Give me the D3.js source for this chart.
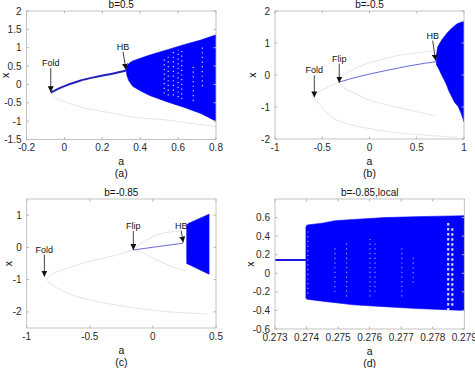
<!DOCTYPE html>
<html>
<head>
<meta charset="utf-8">
<script src="https://cdn.jsdelivr.net/npm/d3@7"></script>
<style>
  body { margin: 0; background: #fff; }
  svg { display: block; font-family: "Liberation Sans", Arial, sans-serif; }
</style>
</head>
<body>
<div id="chart"></div>
<script>
// ---------- panel (a): b=0.5 ----------
const aTicksA = [-0.2, 0, 0.2, 0.4, 0.6, 0.8];
const xTicksA = [-1.5, -1, -0.5, 0, 0.5, 1, 1.5, 2];
const stableA = [[-0.072, -0.22], [-0.006, -0.06], [0.082, 0.1], [0.17, 0.21], [0.258, 0.3], [0.326, 0.38]];
const unstableA = [
    [[-0.072, -0.22], [-0.06, -0.3], [-0.04, -0.38], [0.082, -0.61], [0.258, -0.79], [0.38, -0.9], [0.54, -0.97], [0.7, -1.08], [0.8, -1.15]]
];
const cloudA = [[0.326, 0.38], [0.33, 0.5], [0.34, 0.57], [0.36, 0.64], [0.4, 0.71], [0.45, 0.8], [0.54, 0.94],
    [0.63, 1.08], [0.72, 1.21], [0.8, 1.35], [0.8, -1.0], [0.72, -0.79], [0.63, -0.62], [0.54, -0.47],
    [0.45, -0.3], [0.4, -0.17], [0.36, -0.05], [0.34, 0.1], [0.33, 0.24]];
const gapsA = [[0.527, -0.25, 0.7], [0.548, -0.3, 0.85], [0.575, -0.3, 0.9], [0.6, -0.35, 0.95], [0.619, -0.4, 0.98], [0.68, -0.45, 0.5], [0.728, -0.05, 1.1]];
const notesA = [['Fold', -0.072, -0.21], ['HB', 0.325, 0.4]];

// ---------- panel (b): b=-0.5 ----------
const aTicksB = [-1, -0.5, 0, 0.5, 1];
const xTicksB = [-2, -1, 0, 1, 2];
const stableB = [[-0.32, -0.22], [-0.1, -0.04], [0.16, 0.13], [0.45, 0.3], [0.71, 0.42]];
const unstableB = [
    [[-0.6, -0.72], [-0.56, -0.57], [-0.45, -0.4], [-0.32, -0.22]],
    [[-0.6, -0.72], [-0.54, -0.88], [-0.45, -1.18], [-0.365, -1.38], [-0.2, -1.55], [-0.01, -1.67], [0.34, -1.82], [0.69, -1.9], [0.93, -1.95]],
    [[-0.32, -0.22], [-0.295, -0.05], [-0.15, 0.2], [-0.01, 0.37], [0.34, 0.63], [0.69, 0.75]],
    [[-0.32, -0.22], [-0.26, -0.42], [-0.1, -0.65], [-0.01, -0.78], [0.34, -1.04], [0.69, -1.27]]
];
const cloudB = [[0.705, 0.42], [0.712, 0.7], [0.722, 0.88], [0.764, 1.09], [0.817, 1.3], [0.87, 1.46], [0.923, 1.59],
    [0.96, 1.64], [1.0, 1.67], [1.0, -1.46], [0.97, -1.2], [0.94, -0.99], [0.9, -0.85], [0.87, -0.68], [0.84, -0.5],
    [0.816, -0.31], [0.79, -0.15], [0.763, 0.0], [0.735, 0.18], [0.71, 0.31]];
const gapsB = [];
const notesB = [['Fold', -0.584, -0.7], ['Flip', -0.32, -0.24], ['HB', 0.7, 0.45]];

// ---------- panel (c): b=-0.85 ----------
const aTicksC = [-1, -0.5, 0, 0.5];
const xTicksC = [-2, -1, 0, 1];
const stableC = [[-0.155, -0.08], [0.05, 0.03], [0.24, 0.13]];
const unstableC = [
    [[-0.84, -1.0], [-0.815, -0.85], [-0.7, -0.68], [-0.553, -0.49], [-0.4, -0.34], [-0.287, -0.24], [-0.155, -0.08]],
    [[-0.84, -1.0], [-0.815, -1.11], [-0.7, -1.38], [-0.55, -1.58], [-0.287, -1.79], [-0.023, -1.94], [0.241, -2.03], [0.44, -2.06]],
    [[-0.155, -0.08], [-0.1, 0.1], [0.03, 0.38], [0.16, 0.49], [0.22, 0.5]],
    [[-0.155, -0.08], [-0.1, -0.13], [0.03, -0.39], [0.19, -0.65], [0.27, -0.72]]
];
const cloudC = [[0.268, 0.69], [0.28, 0.74], [0.445, 1.03], [0.445, -0.83], [0.268, -0.5]];
const gapsC = [];
const notesC = [['Fold', -0.86, -0.91], ['Flip', -0.155, -0.08], ['HB', 0.24, 0.15]];

// ---------- panel (d): b=-0.85, local ----------
const aTicksD = [0.273, 0.274, 0.275, 0.276, 0.277, 0.278, 0.279];
const xTicksD = [-0.6, -0.4, -0.2, 0, 0.2, 0.4, 0.6];
const stableD = [[0.273, 0.143], [0.27398, 0.143]];
const unstableD = [];
const cloudD = [[0.27398, 0.5], [0.27402, 0.52], [0.2745, 0.54], [0.2749, 0.566], [0.2755, 0.58], [0.27649, 0.6],
    [0.2775, 0.61], [0.279, 0.62], [0.279, -0.4], [0.2775, -0.38], [0.27649, -0.36], [0.2755, -0.34],
    [0.275, -0.32], [0.2745, -0.3], [0.27402, -0.28], [0.27398, -0.27]];
const gapsD = [[0.27404, -0.22, 0.45], [0.2749, -0.2, 0.3], [0.27527, -0.25, 0.35], [0.27601, -0.25, 0.4],
    [0.27617, -0.2, 0.35], [0.27702, -0.25, 0.3], [0.27738, -0.1, 0.2], [0.27849, -0.4, 0.55], [0.27862, -0.35, 0.5]];
const notesD = [];

// layout of the four axes (pixel boxes) and their styles
const panels = [
    { title: 'b=0.5', caption: '(a)', box: [26.5, 11, 216, 139.5], aDom: [-0.2, 0.8], xDom: [-1.5, 2],
      aTicks: aTicksA, xTicks: xTicksA, stable: stableA, unstable: unstableA, cloud: cloudA, gaps: gapsA, notes: notesA,
      stableColor: '#2323b8', stableWidth: 2, ylab: 21, noteLen: [24, 18], noteDx: [0, -3] },
    { title: 'b=-0.5', caption: '(b)', box: [275, 11, 464, 139], aDom: [-1, 1], xDom: [-2, 2],
      aTicks: aTicksB, xTicks: xTicksB, stable: stableB, unstable: unstableB, cloud: cloudB, gaps: gapsB, notes: notesB,
      stableColor: '#6a6ad2', stableWidth: 1, ylab: 23, noteLen: [22, 19, 20], noteDx: [0, 0, -3] },
    { title: 'b=-0.85', caption: '(c)', box: [26.7, 199, 216, 328], aDom: [-1, 0.5], xDom: [-2.5, 1.5],
      aTicks: aTicksC, xTicks: xTicksC, stable: stableC, unstable: unstableC, cloud: cloudC, gaps: gapsC, notes: notesC,
      stableColor: '#6a6ad2', stableWidth: 1, ylab: 18, noteLen: [22, 19, 12], noteDx: [0, 0, -2] },
    { title: 'b=-0.85,local', caption: '(d)', box: [275, 199, 464.3, 329], aDom: [0.273, 0.279], xDom: [-0.6, 0.8],
      aTicks: aTicksD, xTicks: xTicksD, stable: stableD, unstable: unstableD, cloud: cloudD, gaps: gapsD, notes: notesD,
      stableColor: '#1a1ae0', stableWidth: 2, ylab: 25, noteLen: [], noteDx: [] }
];

const svg = d3.select('#chart').append('svg')
    .attr('width', 475)
    .attr('height', 368);

// arrow head for the annotations
svg.append('defs').append('marker')
    .attr('id', 'head')
    .attr('viewBox', '0 0 10 10')
    .attr('refX', 10).attr('refY', 5)
    .attr('markerWidth', 6).attr('markerHeight', 6)
    .attr('markerUnits', 'userSpaceOnUse')
    .attr('orient', 'auto')
    .append('path')
    .attr('d', 'M0,0L10,5L0,10Z')
    .attr('fill', '#111');

const fmt = d => String(d);

panels.forEach((p, i) => {
    const [left, top, right, bottom] = p.box;
    const x = d3.scaleLinear().domain(p.aDom).range([left, right]);
    const y = d3.scaleLinear().domain(p.xDom).range([bottom, top]);
    const g = svg.append('g');

    // clip to the axes box
    const clipId = 'clip' + i;
    g.append('clipPath').attr('id', clipId)
        .append('rect')
        .attr('x', left).attr('y', top)
        .attr('width', right - left).attr('height', bottom - top);

    const plot = g.append('g').attr('clip-path', `url(#${clipId})`);
    const line = d3.line().x(d => x(d[0])).y(d => y(d[1])).curve(d3.curveMonotoneX);

    // unstable branches (faint)
    plot.selectAll('path.unstable')
        .data(p.unstable)
        .join('path')
        .attr('class', 'unstable')
        .attr('d', d => d3.line().x(e => x(e[0])).y(e => y(e[1])).curve(d3.curveCatmullRom)(d))
        .attr('fill', 'none')
        .attr('stroke', '#e4e4ee')
        .attr('stroke-width', 1);

    // chaotic / quasi-periodic cloud
    plot.append('path')
        .attr('d', d3.line().x(d => x(d[0])).y(d => y(d[1])).curve(d3.curveLinearClosed)(p.cloud))
        .attr('fill', '#0000ff')
        .attr('stroke', '#0000ff')
        .attr('stroke-width', 0.6);

    // white gaps inside the cloud
    plot.selectAll('line.gap')
        .data(p.gaps)
        .join('line')
        .attr('class', 'gap')
        .attr('x1', d => x(d[0])).attr('x2', d => x(d[0]))
        .attr('y1', d => y(d[1])).attr('y2', d => y(d[2]))
        .attr('stroke', '#fff')
        .attr('stroke-width', d => (i === 3 && d[0] > 0.2784) ? 2.2 : 1.2)
        .attr('stroke-dasharray', d => (i === 3 && d[0] > 0.2784) ? '2.5,2.5' : '1.2,3.5')
        .attr('opacity', d => (i === 3 && d[0] < 0.2784) ? 0.6 : 0.85);

    // stable branch
    plot.append('path')
        .attr('d', line(p.stable))
        .attr('fill', 'none')
        .attr('stroke', p.stableColor)
        .attr('stroke-width', p.stableWidth);

    // axes box
    g.append('rect')
        .attr('x', left).attr('y', top)
        .attr('width', right - left).attr('height', bottom - top)
        .attr('fill', 'none')
        .attr('stroke', '#b4b4b4')
        .attr('stroke-width', 0.8);

    // tick marks on all four sides (inward)
    const tk = 2.5;
    g.selectAll('line.ta').data(p.aTicks).join('line')
        .attr('x1', d => x(d)).attr('x2', d => x(d))
        .attr('y1', bottom).attr('y2', bottom - tk)
        .attr('stroke', '#b4b4b4');
    g.selectAll('line.tat').data(p.aTicks).join('line')
        .attr('x1', d => x(d)).attr('x2', d => x(d))
        .attr('y1', top).attr('y2', top + tk)
        .attr('stroke', '#b4b4b4');
    g.selectAll('line.tx').data(p.xTicks).join('line')
        .attr('x1', left).attr('x2', left + tk)
        .attr('y1', d => y(d)).attr('y2', d => y(d))
        .attr('stroke', '#b4b4b4');
    g.selectAll('line.txr').data(p.xTicks).join('line')
        .attr('x1', right).attr('x2', right - tk)
        .attr('y1', d => y(d)).attr('y2', d => y(d))
        .attr('stroke', '#b4b4b4');

    // tick labels
    g.append('g').selectAll('text').data(p.aTicks).join('text')
        .attr('x', d => x(d))
        .attr('y', bottom + 11.5)
        .attr('text-anchor', 'middle')
        .attr('font-size', 10)
        .attr('fill', '#2a2a2a')
        .text(fmt);
    g.append('g').selectAll('text').data(p.xTicks).join('text')
        .attr('x', left - 5)
        .attr('y', d => y(d))
        .attr('dy', '0.35em')
        .attr('text-anchor', 'end')
        .attr('font-size', 10)
        .attr('fill', '#2a2a2a')
        .text(fmt);

    // titles and labels
    g.append('text')
        .attr('x', (left + right) / 2)
        .attr('y', top - 3)
        .attr('text-anchor', 'middle')
        .attr('font-size', 10)
        .attr('fill', '#111')
        .text(p.title);
    g.append('text')
        .attr('x', (left + right) / 2)
        .attr('y', bottom + 25.5)
        .attr('text-anchor', 'middle')
        .attr('font-size', 10.5)
        .attr('fill', '#111')
        .text('a');
    g.append('text')
        .attr('x', (left + right) / 2)
        .attr('y', bottom + 37.5)
        .attr('text-anchor', 'middle')
        .attr('font-size', 10.5)
        .attr('fill', '#111')
        .text(p.caption);
    g.append('text')
        .attr('transform', `translate(${left - p.ylab}, ${(top + bottom) / 2}) rotate(-90)`)
        .attr('text-anchor', 'middle')
        .attr('dy', '0.35em')
        .attr('font-size', 10.5)
        .attr('fill', '#111')
        .text('x');

    // annotations: arrow + label
    p.notes.forEach((n, k) => {
        const tx = x(n[1]), ty = y(n[2]);
        const sx = tx + p.noteDx[k], sy = ty - p.noteLen[k];
        g.append('line')
            .attr('x1', sx).attr('y1', sy)
            .attr('x2', tx).attr('y2', ty)
            .attr('stroke', '#111')
            .attr('stroke-width', 0.8)
            .attr('marker-end', 'url(#head)');
        g.append('text')
            .attr('x', sx)
            .attr('y', sy - 2)
            .attr('text-anchor', 'middle')
            .attr('font-size', 9)
            .attr('fill', '#111')
            .text(n[0]);
    });
});
</script>
</body>
</html>
